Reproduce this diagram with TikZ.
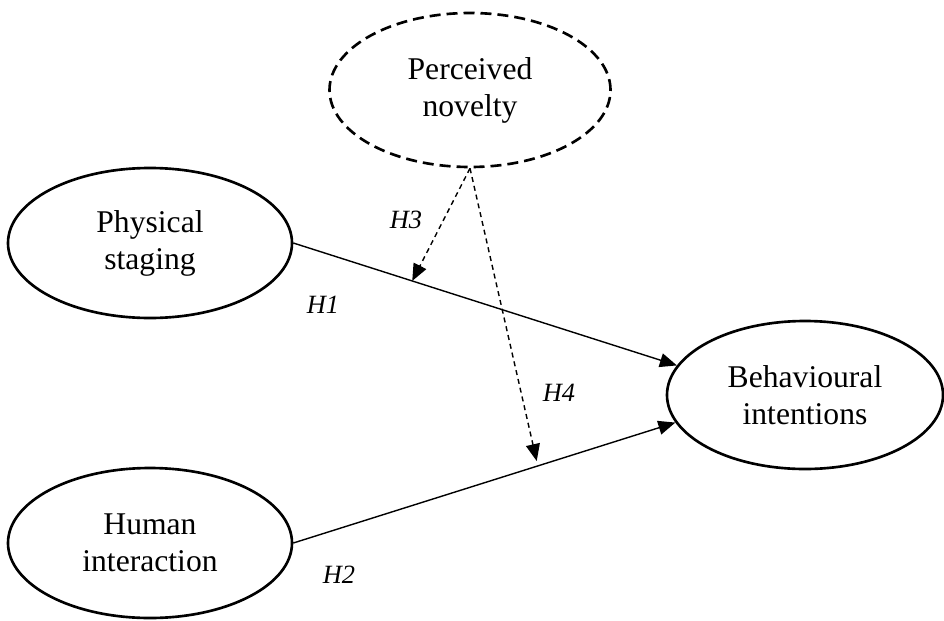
\documentclass[tikz,border=0pt]{standalone}
\usepackage{fontspec}
\setmainfont{Liberation Serif}
\usetikzlibrary{arrows.meta,shapes.geometric}

\begin{document}
\begin{tikzpicture}[x=0.2mm,y=-0.2mm,
    latentstyle/.style={ellipse,draw,line width=1.5pt,minimum width=56.8mm,
    minimum height=30mm,inner sep=0pt,align=center,font=\fontsize{18}{21}\selectfont},
    pathstyle/.style={line width=0.8pt,-{Triangle[length=3.4mm,width=2.8mm]}},
    hypstyle/.style={font=\fontsize{15}{18}\selectfont\itshape}]
    \useasboundingbox (0,0) rectangle (944,620);
    \node[latentstyle,dash pattern=on 2.2mm off 1.2mm,minimum width=56.2mm,minimum height=30.8mm] (pn) at (470,90) {Perceived\\novelty};
    \node[latentstyle] (ps) at (150,243) {Physical\\staging};
    \node[latentstyle] (hi) at (150,543) {Human\\interaction};
    \node[latentstyle,minimum width=55.2mm,minimum height=29.6mm] (bi) at (805,395) {Behavioural\\intentions};
    \draw[pathstyle] (ps.east) -- coordinate[pos=0.31] (m1) (bi.167);
    \draw[pathstyle] (hi.east) -- coordinate[pos=0.64] (m2) (bi.192);
    \draw[pathstyle,dash pattern=on 1mm off 0.8mm] (pn.south) -- (m1);
    \draw[pathstyle,dash pattern=on 1mm off 0.8mm,shorten >=1mm] (pn.south) -- (m2);
    \foreach \h/\xy in {1/{323,305},2/{339,575},3/{406,220},4/{559,393}}
        \node[hypstyle] (h\h) at (\xy) {H\h};
\end{tikzpicture}
\end{document}
